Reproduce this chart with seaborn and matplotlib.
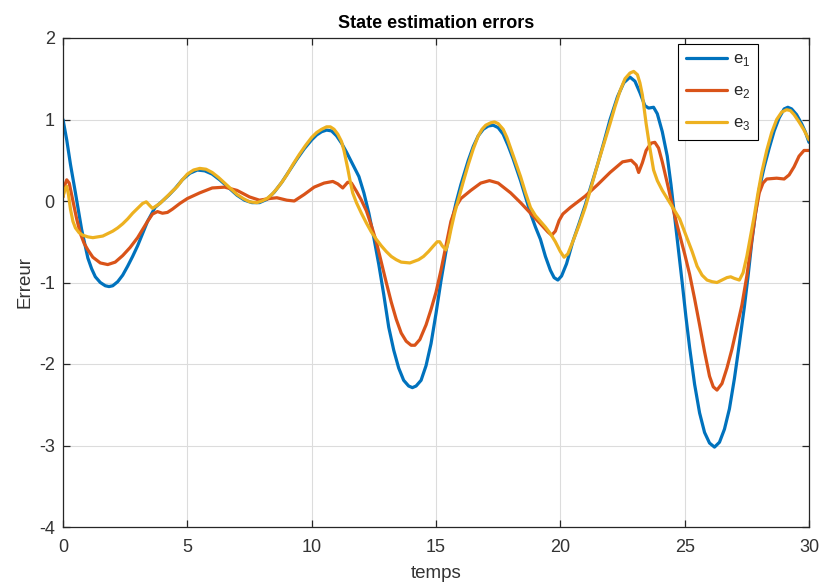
import numpy as np
import pandas as pd
import matplotlib
matplotlib.use("Agg")
import matplotlib.pyplot as plt
import seaborn as sns

# ---- data ----
t1 = [0, 0.15, 0.3, 0.5, 0.75, 1.0, 1.15, 1.3, 1.5, 1.7, 1.85, 2.0, 2.2, 2.4, 2.6, 2.8, 3.0, 3.2, 3.4,
      3.7, 4.0, 4.25, 4.5, 4.8, 5.1, 5.4, 5.7, 6.0, 6.3, 6.6, 7.0, 7.3, 7.6, 7.9, 8.2, 8.5, 8.8, 9.1,
      9.4, 9.7, 10.0, 10.2, 10.4, 10.6, 10.8, 11.0, 11.2, 11.4, 11.65, 11.9, 12.1, 12.3, 12.5, 12.7,
      12.9, 13.1, 13.3, 13.5, 13.7, 13.9, 14.05, 14.2, 14.4, 14.6, 14.8, 15.0, 15.2, 15.4, 15.6, 15.8,
      16.0, 16.3, 16.5, 16.7, 16.9, 17.1, 17.3, 17.5, 17.7, 17.9, 18.1, 18.4, 18.6, 18.8, 19.0, 19.2,
      19.4, 19.6, 19.75, 19.9, 20.05, 20.25, 20.5, 20.75, 21.0, 21.25, 21.5, 21.75, 22.0, 22.3, 22.55,
      22.8, 23.0, 23.2, 23.4, 23.55, 23.75, 23.9, 24.1, 24.3, 24.45, 24.6, 24.75, 24.9, 25.05, 25.2,
      25.4, 25.6, 25.8, 26.0, 26.2, 26.4, 26.6, 26.8, 27.0, 27.2, 27.4, 27.55, 27.7, 27.85, 28.0, 28.2,
      28.4, 28.6, 28.8, 29.0, 29.15, 29.3, 29.5, 29.7, 29.85, 30.0]
e1 = [1.00, 0.75, 0.45, 0.10, -0.35, -0.70, -0.83, -0.93, -1.00, -1.04, -1.05, -1.04, -0.99, -0.91,
      -0.80, -0.68, -0.55, -0.40, -0.25, -0.08, 0.00, 0.07, 0.15, 0.26, 0.34, 0.38, 0.37, 0.33, 0.26,
      0.18, 0.07, 0.01, -0.02, -0.02, 0.02, 0.11, 0.23, 0.37, 0.51, 0.64, 0.75, 0.81, 0.85, 0.87, 0.86,
      0.80, 0.71, 0.60, 0.45, 0.30, 0.10, -0.15, -0.45, -0.78, -1.15, -1.55, -1.83, -2.05, -2.20, -2.27,
      -2.29, -2.27, -2.20, -2.02, -1.75, -1.38, -0.98, -0.62, -0.30, -0.03, 0.20, 0.50, 0.67, 0.80,
      0.88, 0.92, 0.93, 0.90, 0.82, 0.68, 0.52, 0.25, 0.05, -0.15, -0.32, -0.47, -0.68, -0.85, -0.94,
      -0.97, -0.92, -0.77, -0.50, -0.28, -0.05, 0.20, 0.45, 0.72, 1.00, 1.28, 1.45, 1.52, 1.47, 1.33,
      1.17, 1.14, 1.15, 1.07, 0.85, 0.55, 0.20, -0.20, -0.60, -1.00, -1.42, -1.80, -2.25, -2.60, -2.84,
      -2.97, -3.02, -2.96, -2.80, -2.55, -2.18, -1.75, -1.30, -0.92, -0.50, -0.15, 0.15, 0.42, 0.65,
      0.86, 1.02, 1.13, 1.15, 1.13, 1.06, 0.95, 0.85, 0.72]

t2 = [0, 0.08, 0.15, 0.25, 0.4, 0.55, 0.7, 0.85, 1.0, 1.2, 1.5, 1.8, 2.1, 2.4, 2.7, 3.0, 3.2, 3.4,
      3.6, 3.8, 4.0, 4.2, 4.4, 4.7, 5.0, 5.5, 6.0, 6.5, 7.0, 7.5, 7.9, 8.3, 8.6, 9.0, 9.3, 9.7, 10.1,
      10.5, 10.85, 11.05, 11.25, 11.45, 11.6, 11.8, 12.0, 12.2, 12.4, 12.6, 12.8, 13.0, 13.2, 13.4,
      13.6, 13.8, 14.0, 14.15, 14.35, 14.6, 14.8, 15.0, 15.2, 15.4, 15.6, 15.8, 16.0, 16.4, 16.8,
      17.15, 17.5, 18.0, 18.4, 18.8, 19.2, 19.5, 19.65, 19.8, 19.95, 20.1, 20.4, 20.7, 21.0, 21.5,
      22.0, 22.5, 22.85, 23.05, 23.15, 23.3, 23.45, 23.65, 23.8, 23.95, 24.1, 24.3, 24.5, 24.7, 25.0,
      25.2, 25.4, 25.6, 25.8, 26.0, 26.15, 26.3, 26.5, 26.7, 26.9, 27.1, 27.3, 27.5, 27.7, 27.85,
      28.0, 28.15, 28.3, 28.7, 29.0, 29.2, 29.4, 29.6, 29.8, 30.0]
e2 = [0.05, 0.20, 0.26, 0.22, 0.00, -0.22, -0.40, -0.52, -0.60, -0.69, -0.76, -0.78, -0.75, -0.67,
      -0.57, -0.45, -0.35, -0.25, -0.16, -0.13, -0.15, -0.14, -0.10, -0.03, 0.03, 0.10, 0.16, 0.17,
      0.13, 0.05, 0.01, 0.03, 0.04, 0.01, 0.00, 0.08, 0.17, 0.22, 0.24, 0.21, 0.16, 0.23, 0.22, 0.12,
      0.01, -0.12, -0.30, -0.50, -0.75, -1.00, -1.24, -1.45, -1.62, -1.72, -1.77, -1.77, -1.70, -1.52,
      -1.33, -1.12, -0.85, -0.55, -0.25, -0.07, 0.03, 0.13, 0.22, 0.25, 0.22, 0.10, -0.02, -0.15,
      -0.28, -0.38, -0.42, -0.37, -0.24, -0.16, -0.08, -0.01, 0.06, 0.20, 0.35, 0.48, 0.50, 0.44,
      0.35, 0.47, 0.62, 0.71, 0.72, 0.65, 0.48, 0.22, -0.05, -0.30, -0.65, -0.90, -1.20, -1.52, -1.85,
      -2.15, -2.28, -2.32, -2.24, -2.05, -1.82, -1.55, -1.28, -0.92, -0.48, -0.15, 0.10, 0.22, 0.27,
      0.28, 0.27, 0.32, 0.42, 0.55, 0.62, 0.62]

t3 = [0, 0.08, 0.15, 0.22, 0.3, 0.4, 0.5, 0.65, 0.8, 1.0, 1.2, 1.4, 1.6, 1.8, 2.0, 2.2, 2.4, 2.6, 2.8,
      3.0, 3.2, 3.35, 3.5, 3.6, 3.75, 3.9, 4.2, 4.6, 4.8, 5.0, 5.25, 5.5, 5.75, 6.0, 6.25, 6.5, 6.75,
      7.0, 7.25, 7.5, 7.8, 8.0, 8.2, 8.4, 8.6, 8.8, 9.0, 9.25, 9.5, 9.75, 10.0, 10.2, 10.4, 10.6,
      10.75, 10.9, 11.05, 11.2, 11.3, 11.45, 11.55, 11.65, 11.8, 12.0, 12.2, 12.4, 12.6, 12.8, 13.0,
      13.2, 13.4, 13.6, 13.95, 14.3, 14.5, 14.7, 14.9, 15.05, 15.15, 15.25, 15.4, 15.5, 15.6, 15.75,
      15.9, 16.1, 16.3, 16.5, 16.7, 16.85, 17.0, 17.2, 17.35, 17.5, 17.7, 17.85, 18.0, 18.2, 18.4,
      18.6, 18.8, 19.0, 19.2, 19.4, 19.6, 19.8, 20.0, 20.15, 20.3, 20.5, 20.75, 21.0, 21.25, 21.5,
      21.75, 22.0, 22.2, 22.4, 22.6, 22.8, 22.95, 23.1, 23.2, 23.3, 23.45, 23.6, 23.75, 23.9, 24.1,
      24.4, 24.6, 24.8, 25.0, 25.3, 25.5, 25.7, 25.9, 26.1, 26.3, 26.5, 26.7, 26.85, 27.0, 27.2,
      27.35, 27.5, 27.65, 27.8, 27.95, 28.1, 28.3, 28.5, 28.7, 28.9, 29.1, 29.25, 29.4, 29.6, 29.8,
      30.0]
e3 = [0.05, 0.15, 0.18, 0.08, -0.10, -0.25, -0.33, -0.39, -0.42, -0.44, -0.45, -0.44, -0.43, -0.40,
      -0.37, -0.33, -0.28, -0.22, -0.15, -0.09, -0.03, -0.01, -0.06, -0.09, -0.06, -0.03, 0.06, 0.18,
      0.26, 0.33, 0.38, 0.40, 0.39, 0.35, 0.29, 0.22, 0.15, 0.08, 0.03, -0.01, -0.02, 0.00, 0.03, 0.08,
      0.15, 0.23, 0.32, 0.45, 0.57, 0.68, 0.78, 0.84, 0.88, 0.91, 0.91, 0.88, 0.82, 0.73, 0.62, 0.40,
      0.24, 0.10, -0.02, -0.15, -0.27, -0.38, -0.47, -0.55, -0.62, -0.68, -0.72, -0.75, -0.76, -0.72,
      -0.68, -0.62, -0.55, -0.50, -0.50, -0.55, -0.60, -0.50, -0.35, -0.15, 0.02, 0.24, 0.45, 0.64,
      0.80, 0.88, 0.93, 0.96, 0.97, 0.95, 0.88, 0.78, 0.65, 0.48, 0.30, 0.10, -0.08, -0.18, -0.25,
      -0.32, -0.40, -0.50, -0.62, -0.69, -0.65, -0.50, -0.30, -0.08, 0.18, 0.45, 0.70, 0.95, 1.16,
      1.35, 1.50, 1.57, 1.59, 1.55, 1.45, 1.30, 0.95, 0.65, 0.38, 0.25, 0.13, -0.02, -0.12, -0.22,
      -0.38, -0.62, -0.80, -0.91, -0.97, -0.99, -1.00, -0.97, -0.94, -0.93, -0.95, -0.97, -0.88, -0.68,
      -0.43, -0.18, 0.10, 0.35, 0.62, 0.84, 1.00, 1.09, 1.12, 1.11, 1.06, 0.97, 0.87, 0.75]

labels = ["e$_1$", "e$_2$", "e$_3$"]
colors = ["#0072BD", "#D95319", "#EDB120"]
xticks = [0, 5, 10, 15, 20, 25, 30]
yticks = [-4, -3, -2, -1, 0, 1, 2]

df = pd.concat([
    pd.DataFrame({"temps": t1, "Erreur": e1, "serie": labels[0]}),
    pd.DataFrame({"temps": t2, "Erreur": e2, "serie": labels[1]}),
    pd.DataFrame({"temps": t3, "Erreur": e3, "serie": labels[2]}),
], ignore_index=True)

sns.set_theme(style="whitegrid")
plt.rcParams["font.family"] = ["Liberation Sans", "DejaVu Sans"]
plt.rcParams["mathtext.fontset"] = "custom"
plt.rcParams["mathtext.rm"] = "Liberation Sans"

fig = plt.figure(figsize=(8.21, 5.85), dpi=100)
ax = fig.add_axes([63 / 821, 1 - 527 / 585, (809 - 63) / 821, (527 - 38) / 585])

sns.lineplot(data=df, x="temps", y="Erreur", hue="serie", palette=colors,
             estimator=None, sort=False, linewidth=2.3, ax=ax)
for ln in ax.get_lines():
    ln.set_solid_joinstyle("round")
    ln.set_solid_capstyle("round")

ax.set_xlim(0, 30)
ax.set_ylim(-4, 2)
ax.set_xticks(xticks)
ax.set_yticks(yticks)
ax.set_xticklabels([str(v) for v in xticks])
ax.set_yticklabels([str(v) for v in yticks])
ax.grid(True, color="#dcdcdc", linewidth=0.8)
ax.set_facecolor("white")
for s in ax.spines.values():
    s.set_color("#262626")
    s.set_linewidth(0.9)
    s.set_visible(True)
ax.tick_params(axis="both", direction="in", length=5, width=0.9, color="#262626",
               labelsize=13, labelcolor="#333333", top=True, right=True,
               bottom=True, left=True)
ax.tick_params(axis="x", pad=9)
ax.tick_params(axis="y", pad=6)
ax.set_xlabel("temps", fontsize=13.5, color="#333333", labelpad=6)
ax.set_ylabel("Erreur", fontsize=13.5, color="#333333", labelpad=4)
ax.set_title("State estimation errors", fontsize=13, fontweight="bold", color="black", pad=7)

leg = ax.legend(loc="upper right", bbox_to_anchor=((758 - 63) / 746, (527 - 44) / 489),
                borderaxespad=0, fontsize=12, handlelength=2.5, frameon=True, fancybox=False,
                framealpha=1, edgecolor="black", borderpad=0.45, labelspacing=0.9,
                handletextpad=0.35)
leg.get_frame().set_linewidth(0.8)
for line in leg.get_lines():
    line.set_linewidth(2.3)

fig.savefig("out.png", dpi=100)
